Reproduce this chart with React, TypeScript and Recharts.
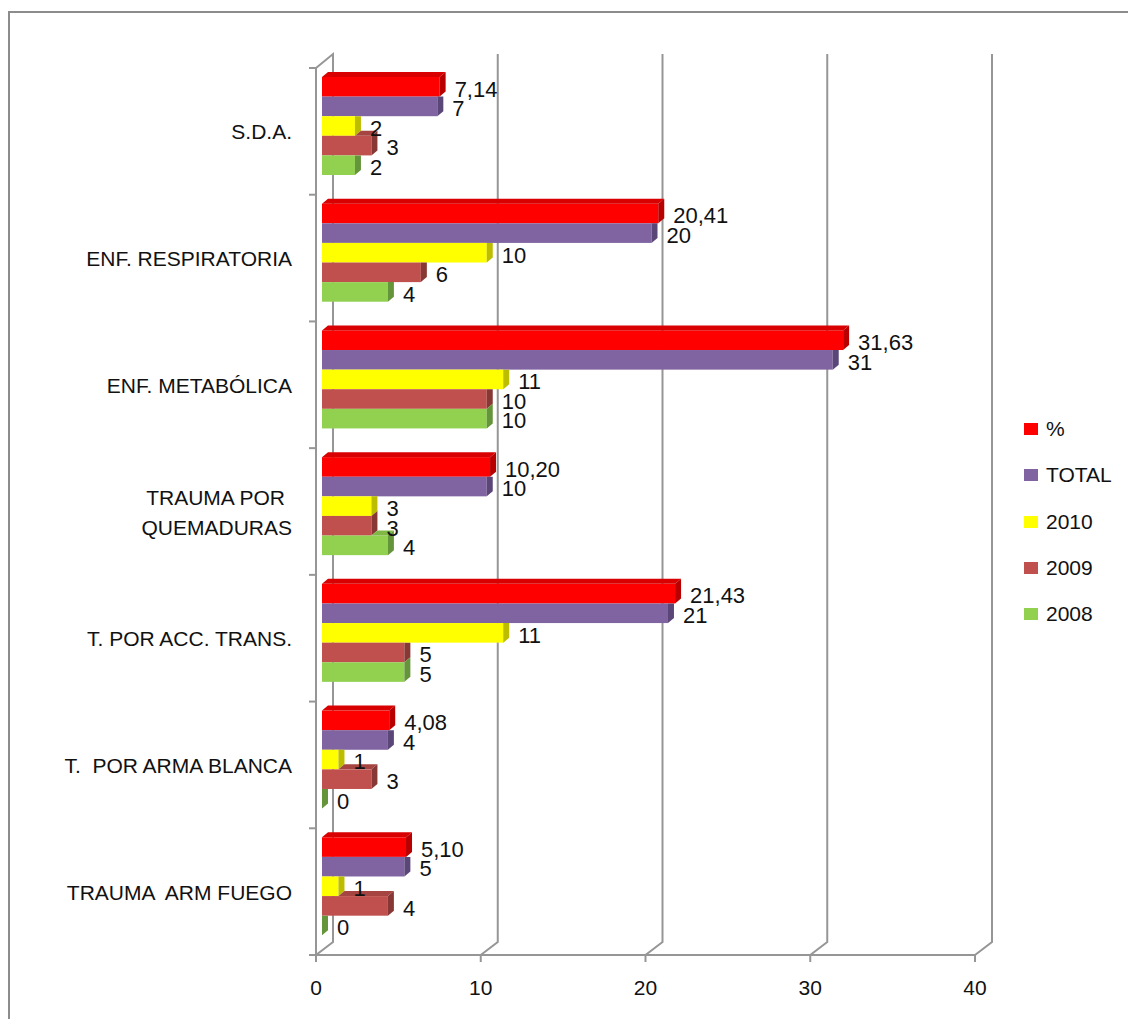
import React from "react";
import { BarChart, Bar, XAxis, YAxis, CartesianGrid, Legend, LabelList } from "recharts";

const categories = [
  "S.D.A.",
  "ENF. RESPIRATORIA",
  "ENF. METABÓLICA",
  "TRAUMA POR\nQUEMADURAS",
  "T. POR ACC. TRANS.",
  "T.  POR ARMA BLANCA",
  "TRAUMA  ARM FUEGO",
];
const pct = [7.14, 20.41, 31.63, 10.2, 21.43, 4.08, 5.1];
const total = [7, 20, 31, 10, 21, 4, 5];
const y2010 = [2, 10, 11, 3, 11, 1, 1];
const y2009 = [3, 6, 10, 3, 5, 3, 4];
const y2008 = [2, 4, 10, 4, 5, 0, 0];
const xTicks = [0, 10, 20, 30, 40];

const series = [
  { key: "pct", name: "%", values: pct, front: "#FF0000", side: "#B80000", top: "#D80000", decimals: 2 },
  { key: "total", name: "TOTAL", values: total, front: "#8064A2", side: "#5B4777", top: "#705690", decimals: 0 },
  { key: "y2010", name: "2010", values: y2010, front: "#FFFF00", side: "#BDBD00", top: "#E2E200", decimals: 0 },
  { key: "y2009", name: "2009", values: y2009, front: "#C0504D", side: "#873835", top: "#A54441", decimals: 0 },
  { key: "y2008", name: "2008", values: y2008, front: "#92D050", side: "#65953A", top: "#7FB845", decimals: 0 },
];

const data = categories.map((name, i) => {
  const row: Record<string, any> = { name };
  series.forEach((s) => (row[s.key] = s.values[i]));
  return row;
});

// layout
const W = 1128;
const H = 1019;
const PLOT_LEFT = 316;
const PLOT_RIGHT = 975;
const PLOT_TOP = 68;
const PLOT_BOTTOM = 955;
const PLOT_W = PLOT_RIGHT - PLOT_LEFT;
const PLOT_H = PLOT_BOTTOM - PLOT_TOP;
const PX_PER_UNIT = PLOT_W / 40;
const GRID = "#969696";

// bar plane offset and bar depth
const SHIFT_X = 6;
const SHIFT_Y = -5;
const DEP_X = 6;
const DEP_Y = 5;
// back wall offset
const WALL_X = 17;
const WALL_Y = 13;

const fmt = (v: number, d: number) => (d ? v.toFixed(d).replace(".", ",") : String(v));

function barShape(si: number) {
  return (props: any) => {
    const { x, y, width, height, payload } = props;
    const s = series[si];
    const x0 = x + SHIFT_X;
    const y0 = y + SHIFT_Y;
    const w = Math.max(0, width);
    const xe = x0 + w;
    const above = si > 0 ? series[si - 1] : null;
    const aboveEnd = above ? x0 + payload[above.key] * PX_PER_UNIT : -1;

    let topFace: string | null = null;
    if (!above) {
      topFace = `${x0},${y0} ${x0 + DEP_X},${y0 - DEP_Y} ${xe + DEP_X},${y0 - DEP_Y} ${xe},${y0}`;
    } else if (aboveEnd < xe) {
      topFace = `${aboveEnd},${y0} ${aboveEnd + DEP_X},${y0 - DEP_Y} ${xe + DEP_X},${y0 - DEP_Y} ${xe},${y0}`;
    }
    const sideTop = above && aboveEnd > xe ? y0 : y0 - DEP_Y;
    const sideFace = `${xe},${y0} ${xe + DEP_X},${sideTop} ${xe + DEP_X},${y0 + height - DEP_Y} ${xe},${y0 + height}`;

    return (
      <g>
        {w > 0 && <rect x={x0} y={y0} width={w} height={height} fill={s.front} />}
        {topFace && <polygon points={topFace} fill={s.top} />}
        <polygon points={sideFace} fill={s.side} />
      </g>
    );
  };
}

function valueLabel(si: number) {
  return (props: any) => {
    const vb = props.viewBox || props;
    const x = vb.x ?? props.x;
    const y = vb.y ?? props.y;
    const width = vb.width ?? props.width;
    const height = vb.height ?? props.height;
    return (
      <text
        x={x + Math.max(0, width) + SHIFT_X + DEP_X + 9}
        y={y + height + SHIFT_Y}
        fontSize={22}
        fill="#111"
      >
        {fmt(Number(props.value), series[si].decimals)}
      </text>
    );
  };
}

const gridLine = (props: any) => {
  const { x1, y1, y2, index } = props;
  const bx = x1 + WALL_X;
  let pts = `${x1},${y2} ${bx},${y2 - WALL_Y} ${bx},${y1 - WALL_Y - 1}`;
  if (index === 0) pts += ` ${x1},${y1}`;
  return <polyline key={`g-${index}`} points={pts} fill="none" stroke={GRID} strokeWidth={2} />;
};

const CategoryTick = (props: any) => {
  const { y, payload, index } = props;
  const band = PLOT_H / categories.length;
  const lines = String(payload.value).split("\n");
  const tx = PLOT_LEFT - 24;
  return (
    <g>
      <line x1={PLOT_LEFT - 7} x2={PLOT_LEFT} y1={y - band / 2} y2={y - band / 2} stroke={GRID} strokeWidth={2} />
      {index === categories.length - 1 && (
        <line x1={PLOT_LEFT - 7} x2={PLOT_LEFT} y1={y + band / 2} y2={y + band / 2} stroke={GRID} strokeWidth={2} />
      )}
      {lines.length === 1 ? (
        <text x={tx} y={y + 8} textAnchor="end" fontSize={21} fill="#111" style={{ whiteSpace: "pre" }}>
          {lines[0]}
        </text>
      ) : (
        <text textAnchor="end" fontSize={21} fill="#111">
          <tspan x={tx - 7} y={y - 7}>{lines[0]}</tspan>
          <tspan x={tx} y={y + 23}>{lines[1]}</tspan>
        </text>
      )}
    </g>
  );
};

const LegendBox = () => (
  <div>
    {series.map((s) => (
      <div key={s.key} style={{ display: "flex", alignItems: "center", height: 46.3 }}>
        <span style={{ width: 14, height: 12, background: s.front, marginRight: 8, display: "inline-block" }} />
        <span style={{ fontSize: 21, color: "#111" }}>{s.name}</span>
      </div>
    ))}
  </div>
);

export default function App() {
  return (
    <div
      style={{
        position: "absolute",
        left: 0,
        top: 0,
        width: W,
        height: H,
        overflow: "hidden",
        background: "#fff",
        fontFamily: "'Liberation Sans', Arial, sans-serif",
      }}
    >
      <div
        style={{
          position: "absolute",
          left: 8,
          top: 11,
          width: W - 8,
          height: H - 11,
          borderTop: "2px solid #8c8c8c",
          borderLeft: "2px solid #8c8c8c",
          boxSizing: "border-box",
        }}
      />
      <div style={{ position: "absolute", left: 0, top: 0 }}>
        <BarChart
          width={W}
          height={H}
          data={data}
          layout="vertical"
          margin={{ top: PLOT_TOP, right: W - PLOT_RIGHT, bottom: H - PLOT_BOTTOM - 40, left: 0 }}
          barSize={19.6}
          barGap={0}
        >
          <CartesianGrid horizontal={false} vertical={gridLine} />
          <XAxis
            type="number"
            domain={[0, 40]}
            ticks={xTicks}
            height={40}
            tick={{ fontSize: 21, fill: "#111" }}
            tickSize={7}
            tickMargin={18}
            axisLine={{ stroke: GRID, strokeWidth: 2 }}
            tickLine={{ stroke: GRID, strokeWidth: 2 }}
          />
          <YAxis
            type="category"
            dataKey="name"
            width={PLOT_LEFT}
            tickLine={false}
            axisLine={{ stroke: GRID, strokeWidth: 2 }}
            tick={<CategoryTick />}
            interval={0}
          />
          <Legend
            layout="vertical"
            align="center"
            verticalAlign="middle"
            wrapperStyle={{ left: 1024, top: 406, width: 104 }}
            content={<LegendBox />}
          />
          {series.map((s, si) => (
            <Bar key={s.key} dataKey={s.key} name={s.name} fill={s.front} shape={barShape(si)} isAnimationActive={false}>
              <LabelList dataKey={s.key} content={valueLabel(si)} />
            </Bar>
          ))}
        </BarChart>
      </div>
    </div>
  );
}
